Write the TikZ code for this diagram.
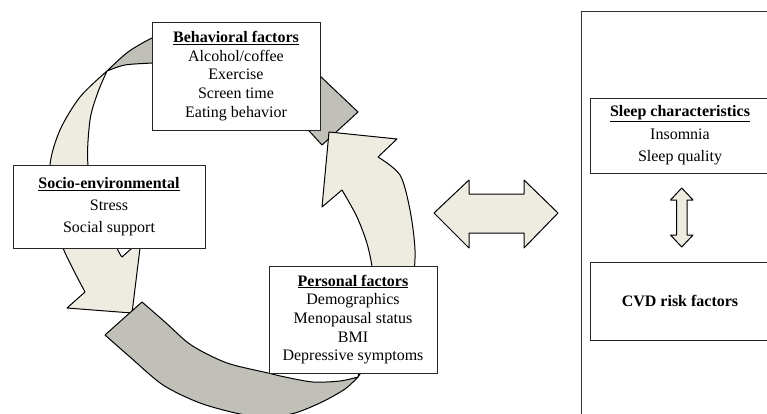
\documentclass[tikz,border=0pt]{standalone}
\usepackage{fontspec}
\setmainfont{Liberation Serif}
\definecolor{beige}{RGB}{238,236,225}
\definecolor{ribbongray}{RGB}{192,192,184}
\tikzset{
  factorbox/.style={draw=black!85, fill=white, line width=0.9pt, align=center,
    inner sep=0pt, font=\fontsize{16}{18.7}\selectfont},
  plainbox/.style={draw=black!80, line width=0.9pt, inner sep=0pt},
  beigeshape/.style={fill=beige, draw=black, line width=1pt, line join=round},
  grayshape/.style={fill=ribbongray, draw=black, line width=1pt, line join=round},
}
\begin{document}
\begin{tikzpicture}[x=1pt, y=-1pt]
\useasboundingbox (0,0) rectangle (767,414);
\clip (0,0) rectangle (767,414);

% gray arrow head right of the behavioral box
\path[grayshape] (300,60) -- (310,66.5) -- (358,112) -- (322,145) -- (300,121) -- cycle;

% right beige arrow (from personal factors up to behavioral factors)
\path[beigeshape] (358,377)
  -- plot[smooth] coordinates {(358,377) (395,320) (412,280) (415,250) (410,210) (400,175) (378,157)}
  -- (397,139) -- (329,132) -- (322,207) -- (342,190)
  -- plot[smooth] coordinates {(342,190) (357,217) (368,247) (373,280) (368,330) (358,377)}
  -- cycle;

% left beige arrow (from behavioral factors down to socio-environmental)
\path[beigeshape] (107,71)
  -- plot[smooth] coordinates {(107,71) (80,97) (60,130) (50,165) (53,210) (63,248) (85,292)}
  -- (67,308) -- (132,313) -- (141,240) -- (122,257)
  -- plot[smooth] coordinates {(122,257) (117,248) (100,205) (88,165) (90,120) (98,92) (107,71)}
  -- cycle;

% gray tail of the left arrow
\path[grayshape] (107,71)
  -- plot[smooth] coordinates {(107,71) (128,52) (152,38) (170,32)}
  -- (170,62)
  -- plot[smooth] coordinates {(170,62) (152,63) (125,65) (107,71)}
  -- cycle;

% bottom gray arrow (from socio-environmental to personal factors)
\path[grayshape] (142,302) -- (105,335)
  -- plot[smooth] coordinates {(105,335) (130,357) (163,385) (200,403) (240,414) (268,417) (295,413) (322,402) (345,389) (358,377)}
  -- plot[smooth] coordinates {(358,377) (340,381) (313,382) (285,377) (268,373) (230,364) (205,353) (187,342) (165,322) (142,302)}
  -- cycle;

% factor boxes
\node[factorbox, minimum width=168, minimum height=108] (beh) at (236,76)
  {\underline{\textbf{Behavioral factors}}\\Alcohol/coffee\\Exercise\\Screen time\\Eating behavior};
\node[factorbox, minimum width=192, minimum height=83] (soc) at (109,206.5)
  {\underline{\textbf{Socio-environmental}}\\[3.3pt]Stress\\[3.3pt]Social support};
\node[factorbox, minimum width=168, minimum height=107] (per) at (353,319.5)
  {\underline{\textbf{Personal factors}}\\Demographics\\Menopausal status\\BMI\\Depressive symptoms};

% right panel
\node[plainbox, minimum width=198, minimum height=420] (panel) at (680,221) {};
\node[factorbox, minimum width=180, minimum height=75] (sleep) at (680,135.5)
  {\underline{\textbf{Sleep characteristics}}\\[3.8pt]Insomnia\\[3.8pt]Sleep quality};
\node[factorbox, minimum width=180, minimum height=78] (cvd) at (680,301)
  {\textbf{CVD risk factors}};

% big horizontal double arrow
\path[beigeshape] (434,213) -- (469,180) -- (469,194) -- (524,194) -- (524,180)
  -- (558,213) -- (524,248) -- (524,233) -- (469,233) -- (469,248) -- cycle;

% small vertical double arrow between sleep and CVD boxes
\path[beigeshape] (681.7,188) -- (693,200) -- (687,200) -- (687,235) -- (693,235)
  -- (681.7,247) -- (670.5,235) -- (676.5,235) -- (676.5,200) -- (670.5,200) -- cycle;
\end{tikzpicture}
\end{document}
